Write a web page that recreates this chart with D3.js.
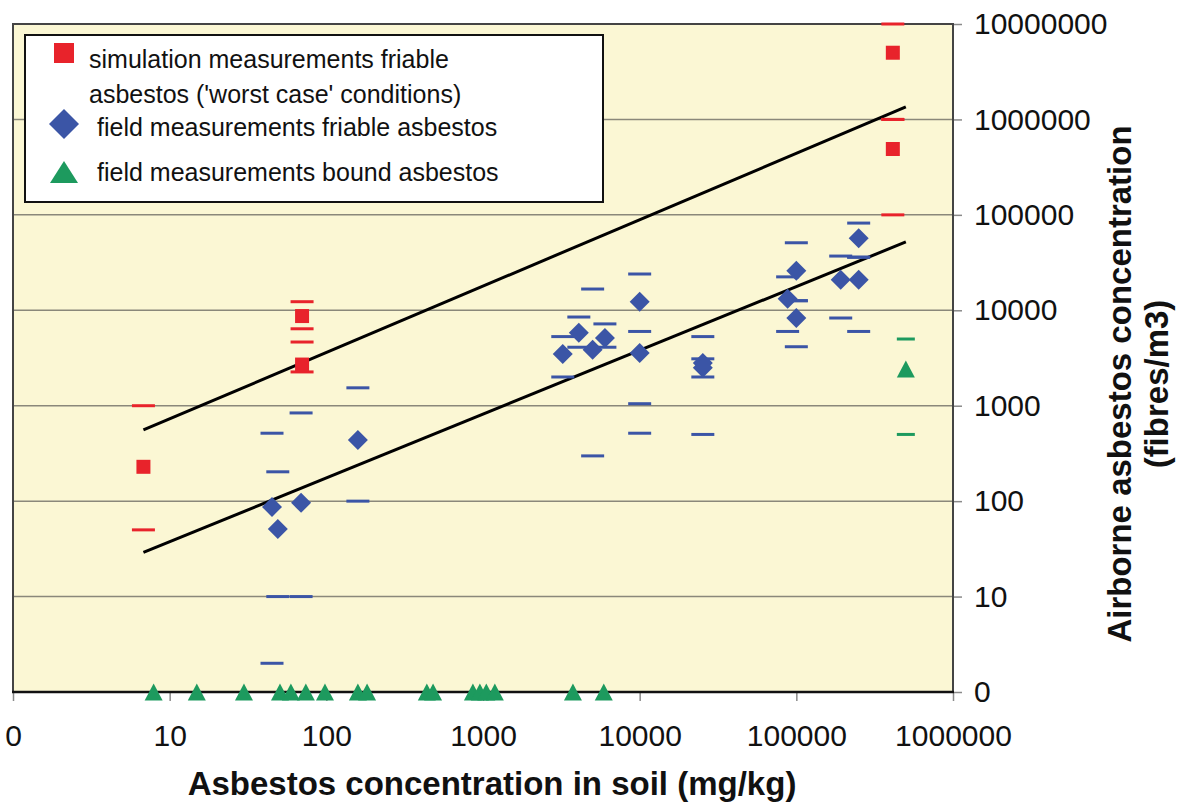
<!DOCTYPE html>
<html>
<head>
<meta charset="utf-8">
<script src="https://cdn.jsdelivr.net/npm/d3@7"></script>
<style>
  body { margin: 0; background: #fff; }
  text { font-family: "Liberation Sans", Arial, sans-serif; fill: #111; }
</style>
</head>
<body>
<svg id="chart" width="1184" height="803"></svg>
<script>
'use strict';

// axis ticks (value 1 is shown as "0" on both log axes)
const xTicks = [1, 10, 100, 1000, 10000, 100000, 1000000];
const yTicks = [1, 10, 100, 1000, 10000, 100000, 1000000, 10000000];

// simulation measurements friable asbestos (red)
const simX  = [6.8, 70, 70, 413000, 413000];
const simY  = [229, 8700, 2700, 5000000, 490000];
const simHi = [1000, 12300, 4650, 10000000, 1000000];
const simLo = [50, 6400, 2260, 1000000, 100000];

// field measurements friable asbestos (blue)
const friX  = [45, 49, 69, 159, 3230, 4090, 5010, 6000, 10000, 10000, 25300, 25300, 88000, 100000, 100000, 192000, 250000, 250000];
const friY  = [87, 51, 96, 437, 3490, 5800, 3850, 5130, 12300, 3570, 2800, 2500, 13200, 25900, 8300, 20900, 20900, 57000];
const friHi = [515, 203, 840, 1540, 5300, 8500, 16700, 7200, 24000, 6000, 5300, 3100, 22400, 51000, 12600, 37000, 36000, 82000];
const friLo = [2, 10, 10, 100, 2000, 4100, 298, 4100, 1050, 515, 500, 2000, 6000, 12600, 4150, 8300, 6000, 36000];

// field measurements bound asbestos (green), 0 = below detection
const bndX  = [7.9, 14.9, 29.8, 50.6, 59.4, 74, 98, 159, 182, 438, 480, 862, 955, 1050, 1190, 3750, 5900, 500000];
const bndY  = [0, 0, 0, 0, 0, 0, 0, 0, 0, 0, 0, 0, 0, 0, 0, 0, 0, 2430];
const bndHi = [null, null, null, null, null, null, null, null, null, null, null, null, null, null, null, null, null, 5000];
const bndLo = [null, null, null, null, null, null, null, null, null, null, null, null, null, null, null, null, null, 500];

// the two fitted lines
const lineX     = [6.8, 500000];
const upperLine = [557, 1350000];
const lowerLine = [29, 52000];

const legendItems = [
  ['simulation measurements friable', "asbestos ('worst case' conditions)"],
  ['field measurements friable asbestos'],
  ['field measurements bound asbestos']
];

const RED = '#e8232b', BLUE = '#3b55a6', GREEN = '#1d9a5e';

const svg = d3.select('#chart');
const L = 13, R = 953, T = 24, B = 692;

const x = d3.scaleLog().domain([1, 1e6]).range([L, R]);
const y = d3.scaleLog().domain([1, 1e7]).range([B, T]);
const fmt = (d) => d === 1 ? '0' : String(d);
const yv = (v) => y(Math.max(v, 1));

// plot area
svg.append('rect')
  .attr('x', L).attr('y', T).attr('width', R - L).attr('height', B - T)
  .attr('fill', '#fbf7d4');

// gridlines
svg.append('g').selectAll('line')
  .data(yTicks.slice(1, -1))
  .enter().append('line')
  .attr('x1', L).attr('x2', R)
  .attr('y1', (d) => y(d)).attr('y2', (d) => y(d))
  .attr('stroke', '#8a887a').attr('stroke-width', 1.5);

// axes
const xAxis = svg.append('g')
  .attr('transform', `translate(0,${B})`)
  .call(d3.axisBottom(x).tickValues(xTicks).tickFormat(fmt).tickSize(9).tickPadding(24));
const yAxis = svg.append('g')
  .attr('transform', `translate(${R},0)`)
  .call(d3.axisRight(y).tickValues(yTicks).tickFormat(fmt).tickSize(9).tickPadding(12));
[xAxis, yAxis].forEach(($a) => {
  $a.select('.domain').remove();
  $a.selectAll('.tick line').attr('stroke', '#8a8a8a').attr('stroke-width', 1.5);
  $a.selectAll('.tick text').attr('font-size', 30).attr('fill', '#111')
    .attr('font-family', '"Liberation Sans", Arial, sans-serif');
});

// plot border
svg.append('path')
  .attr('d', `M${L},${B}V${T}H${R}V${B}`)
  .attr('fill', 'none').attr('stroke', '#444').attr('stroke-width', 2);
svg.append('line')
  .attr('x1', L - 1).attr('x2', R + 1).attr('y1', B).attr('y2', B)
  .attr('stroke', '#111').attr('stroke-width', 2.5);

// marker shapes
const diamond = (w) => `M0,${-w / 2}L${w / 2},0L0,${w / 2}L${-w / 2},0Z`;
const triangle = (w, h) => `M0,${-h / 2}L${w / 2},${h / 2}L${-w / 2},${h / 2}Z`;
const square = (w) => `M${-w / 2},${-w / 2}h${w}v${w}h${-w}Z`;

// fitted lines
[upperLine, lowerLine].forEach((ys) => {
  svg.append('path')
    .datum(lineX.map((d, i) => [d, ys[i]]))
    .attr('d', d3.line().x((d) => x(d[0])).y((d) => y(d[1])))
    .attr('fill', 'none').attr('stroke', '#000').attr('stroke-width', 3);
});

// range dashes
const dashes = (xs, his, los, color, w) => {
  const pts = [];
  xs.forEach((d, i) => {
    if (his[i] != null) pts.push([d, his[i]]);
    if (los[i] != null) pts.push([d, los[i]]);
  });
  svg.append('g').selectAll('line')
    .data(pts)
    .enter().append('line')
    .attr('x1', (d) => x(d[0]) - w / 2).attr('x2', (d) => x(d[0]) + w / 2)
    .attr('y1', (d) => y(d[1])).attr('y2', (d) => y(d[1]))
    .attr('stroke', color).attr('stroke-width', 3);
};
dashes(friX, friHi, friLo, BLUE, 23);
dashes(simX, simHi, simLo, RED, 23);
dashes(bndX, bndHi, bndLo, GREEN, 18);

// points
const points = (xs, ys, color, shape) => {
  svg.append('g').selectAll('path')
    .data(xs.map((d, i) => [d, ys[i]]))
    .enter().append('path')
    .attr('transform', (d) => `translate(${x(d[0])},${yv(d[1])})`)
    .attr('d', shape)
    .attr('fill', color);
};
points(friX, friY, BLUE, diamond(20));
points(simX, simY, RED, square(14));
points(bndX, bndY, GREEN, triangle(18, 17));

// legend
const lg = svg.append('g');
lg.append('rect')
  .attr('x', 25).attr('y', 35).attr('width', 578).attr('height', 167)
  .attr('fill', '#fff').attr('stroke', '#111').attr('stroke-width', 2);
const legendMarks = [
  { shape: square(20), color: RED, cy: 53 },
  { shape: diamond(30), color: BLUE, cy: 124 },
  { shape: triangle(28, 22), color: GREEN, cy: 172 }
];
const legendText = [{ x: 89, y: 68 }, { x: 97, y: 136 }, { x: 97, y: 181 }];
legendItems.forEach((lines, i) => {
  lg.append('path')
    .attr('transform', `translate(64,${legendMarks[i].cy})`)
    .attr('d', legendMarks[i].shape)
    .attr('fill', legendMarks[i].color);
  const t = lg.append('text')
    .attr('x', legendText[i].x).attr('y', legendText[i].y)
    .attr('font-size', 25);
  lines.forEach((s, j) => {
    t.append('tspan').attr('x', legendText[i].x).attr('dy', j ? 35 : 0).text(s);
  });
});

// axis titles
svg.append('text')
  .attr('x', (L + R) / 2 + 9).attr('y', 795)
  .attr('text-anchor', 'middle').attr('font-size', 33).attr('font-weight', 'bold')
  .text('Asbestos concentration in soil (mg/kg)');
const yt = svg.append('text')
  .attr('transform', 'translate(1131,384) rotate(-90)')
  .attr('text-anchor', 'middle').attr('font-size', 33).attr('font-weight', 'bold');
yt.append('tspan').attr('x', 0).attr('dy', 0).text('Airborne asbestos concentration');
yt.append('tspan').attr('x', 0).attr('dy', 37).text('(fibres/m3)');
</script>
</body>
</html>
